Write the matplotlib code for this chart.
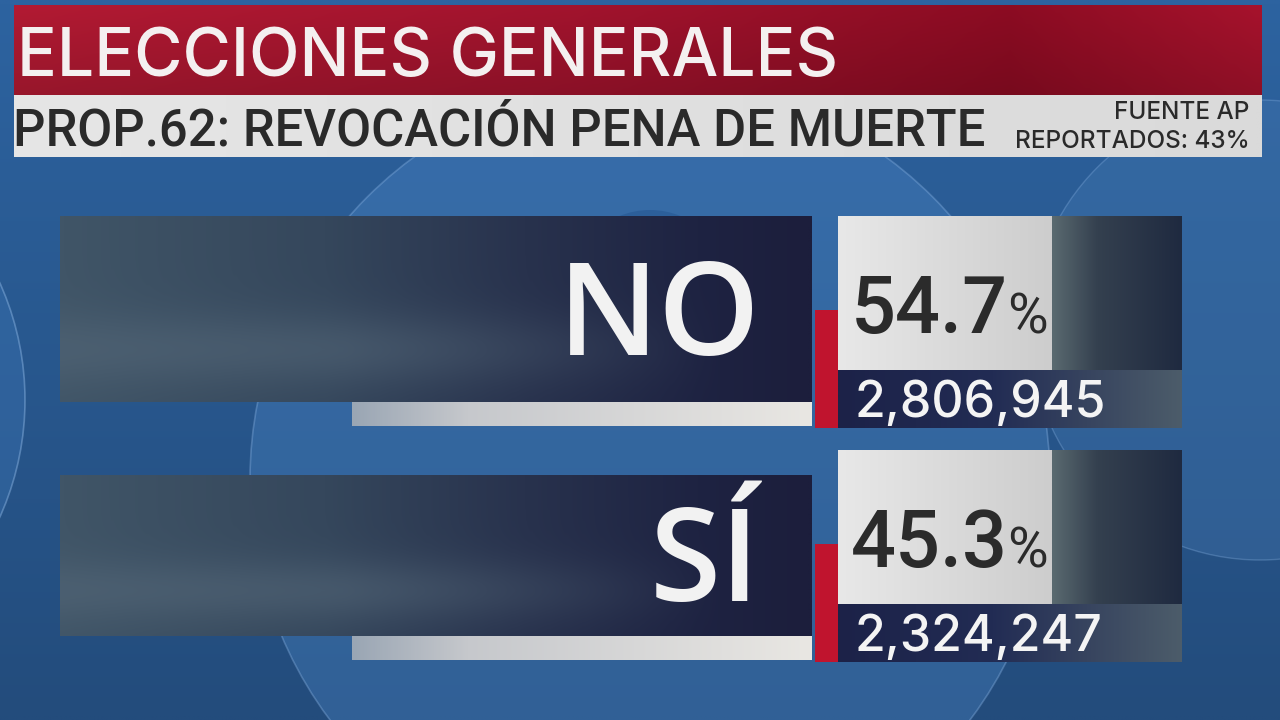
import numpy as np
import matplotlib
matplotlib.use("Agg")
import matplotlib.pyplot as plt
from matplotlib.colors import LinearSegmentedColormap, to_rgb
from matplotlib.patches import Circle, Rectangle

# ---- data ----
title = "ELECCIONES GENERALES"
subtitle = "PROP.62: REVOCACIÓN PENA DE MUERTE"
source = "FUENTE AP"
reported = "REPORTADOS: 43%"
categories = ["NO", "SÍ"]
pct = [54.7, 45.3]
votes = [2806945, 2324247]

# ---- layout (pixels) ----
row_top = [216, 450]
bar_inset = [0, 25]


def grad_img(stops, w=300, h=60):
    cmap = LinearSegmentedColormap.from_list("g", stops)
    row = cmap(np.linspace(0, 1, w))[:, :3]
    return np.repeat(row[None, :, :], h, axis=0)


def put(ax, img, x0, y0, x1, y1, z=2):
    ax.imshow(img, extent=(x0, x1, y1, y0), origin="upper", aspect="auto",
              interpolation="bilinear", zorder=z)


def dark_bar(ax, x0, y0, x1, y1):
    img = grad_img([(0, "#405567"), (0.35, "#35475c"), (0.62, "#28324d"),
                    (0.85, "#1e2342"), (1, "#1c1e3c")], h=80)
    h, w, _ = img.shape
    yy, xx = np.mgrid[0:1:h * 1j, 0:1:w * 1j]
    haze = np.exp(-((yy - 0.72) / 0.2) ** 2) * np.clip((0.88 - xx) / 0.5, 0, 1)
    haze_col = np.array(to_rgb("#56697a"))
    a = (0.5 * haze)[:, :, None]
    img = img * (1 - a) + haze_col * a
    put(ax, img, x0, y0, x1, y1)


fig = plt.figure(figsize=(12.8, 7.2), dpi=100)
ax = fig.add_axes([0, 0, 1, 1])
ax.set_xlim(0, 1280)
ax.set_ylim(720, 0)
ax.axis("off")

# background
bg = np.linspace(0, 1, 100)[:, None, None]
top_c = np.array(to_rgb("#2d63a0"))
bot_c = np.array(to_rgb("#234c7c"))
put(ax, np.repeat(top_c * (1 - bg) + bot_c * bg, 10, axis=1), 0, 0, 1280, 720, z=0)
ax.add_patch(Circle((650, 480), 400, facecolor="#4d88c8", alpha=0.35,
                    edgecolor="#8fb8e8", lw=1.2, zorder=0.5))
ax.add_patch(Circle((1260, 330), 230, facecolor="#4a7fb8", alpha=0.3,
                    edgecolor="#8fb8e8", lw=1, zorder=0.5))
ax.add_patch(Circle((-260, 400), 285, facecolor="#3c74b4", alpha=0.4,
                    edgecolor="#9cc4f0", lw=1.2, zorder=0.5))
ax.add_patch(Circle((650, 290), 80, facecolor="#285a96", alpha=0.7,
                    edgecolor="none", zorder=0.6))

# header bands
red = grad_img([(0, "#a5182f"), (0.45, "#96122a"), (0.8, "#820b20"), (1, "#9a1129")])
shade = np.linspace(1.08, 0.92, red.shape[0])[:, None, None]
put(ax, np.clip(red * shade, 0, 1), 14, 5, 1262, 95)
put(ax, grad_img([(0, "#e6e6e6"), (1, "#dadada")]), 14, 95, 1262, 157)

ax.text(17, 76, title, color="#f4f0f0", fontsize=47.5, family="Inter",
        fontweight="medium", va="baseline", ha="left", zorder=5)
ax.text(13, 146, subtitle, color="#2a2a2a", fontsize=36.5, family="Roboto",
        fontweight="medium", va="baseline", ha="left", zorder=5)
ax.text(1249, 119, source, color="#2a2a2a", fontsize=17.5, family="Inter",
        fontweight="medium", va="baseline", ha="right", zorder=5)
ax.text(1250, 148, reported, color="#2a2a2a", fontsize=17.5, family="Inter",
        fontweight="medium", va="baseline", ha="right", zorder=5)

for i, cat in enumerate(categories):
    t = row_top[i]
    bt = t + bar_inset[i]
    bb = t + 186
    dark_bar(ax, 60, bt, 812, bb)
    put(ax, grad_img([(0, "#9aa6b4"), (0.25, "#c6c8cc"), (1, "#e9e7e3")]), 352, bb, 812, t + 210)
    ax.add_patch(Rectangle((815, t + 94), 23, 118, facecolor="#c0142e",
                           edgecolor="none", zorder=3))
    put(ax, grad_img([(0, "#e8e8e8"), (1, "#cdcdcd")]), 838, t, 1052, t + 154)
    put(ax, grad_img([(0, "#5a6a70"), (0.35, "#34404f"), (1, "#1f2a40")]), 1052, t, 1182, t + 154)
    put(ax, grad_img([(0, "#1c2248"), (0.45, "#222c54"), (1, "#4c5c6a")]), 838, t + 154, 1182, t + 212)

    cy = (bt + bb) / 2
    ax.text(760, cy + 46, cat, color="#f2f2f2", fontsize=93, family="Open Sans",
            fontweight="semibold", va="baseline", ha="right", zorder=5)
    ax.text(851, t + 117, f"{pct[i]:.1f}", color="#2b2b2b", fontsize=57,
            family="Roboto", fontweight="medium", va="baseline", ha="left", zorder=5)
    ax.text(1048, t + 117, "%", color="#2b2b2b", fontsize=40,
            family="Roboto", va="baseline", ha="right", zorder=5)
    ax.text(855, t + 201, f"{votes[i]:,}", color="#f4f4f4", fontsize=36,
            family="Inter", fontweight="medium", va="baseline", ha="left", zorder=5)

fig.savefig("out.png", dpi=100)
